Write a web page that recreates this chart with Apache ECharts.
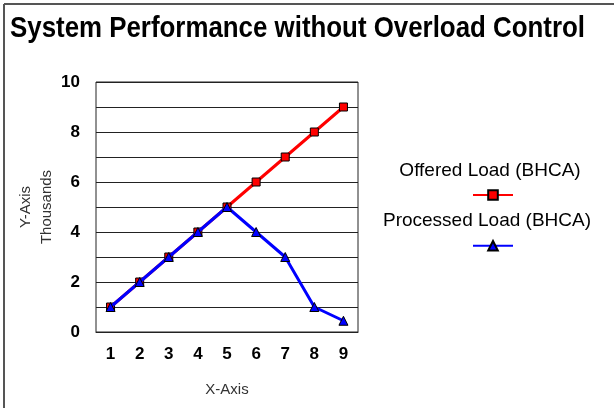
<!DOCTYPE html>
<html><head><meta charset="utf-8">
<script src="https://cdn.jsdelivr.net/npm/echarts@6/dist/echarts.min.js"></script>
<style>html,body{margin:0;padding:0;background:#fff}#c{width:614px;height:408px}</style>
</head><body><div id="c"></div>
<script>
const categories = ['1','2','3','4','5','6','7','8','9'];
const offeredLoad = [1,2,3,4,5,6,7,8,9];
const processedLoad = [1,2,3,4,5,4,3,1,0.45];
const seriesNames = ['Offered Load (BHCA)','Processed Load (BHCA)'];
const titleText = 'System Performance without Overload Control';
const regular = "'Liberation Sans',Arial,sans-serif";
const titleFont = "bold 30px 'Liberation Sans',Arial,sans-serif";
const ctx = document.createElement('canvas').getContext('2d');
ctx.font = titleFont;
const titleScale = 575 / ctx.measureText(titleText).width;
const chart = echarts.init(document.getElementById('c'));
chart.setOption({
  animation:false,
  backgroundColor:'#fff',
  grid:{left:96,right:256,top:82,bottom:76,show:true,borderColor:'#222',borderWidth:1,backgroundColor:'transparent'},
  xAxis:{type:'category',data:categories,boundaryGap:true,
    name:'X-Axis',nameLocation:'middle',nameGap:50,
    nameTextStyle:{fontFamily:regular,fontSize:15,color:'#333'},
    axisLine:{lineStyle:{color:'#222'}},axisTick:{show:false},
    axisLabel:{margin:14,fontFamily:regular,fontWeight:'bold',fontSize:17,color:'#000'}},
  yAxis:{type:'value',min:0,max:10,interval:2,
    name:'Y-Axis\nThousands',nameLocation:'middle',nameRotate:90,nameGap:38,
    nameTextStyle:{fontFamily:regular,fontSize:15,color:'#333',lineHeight:21},
    axisLine:{show:false},axisTick:{show:false},
    axisLabel:{margin:16,fontFamily:regular,fontWeight:'bold',fontSize:17,color:'#000'},
    splitLine:{lineStyle:{color:'#222',width:1}},
    minorTick:{show:false,splitNumber:2},
    minorSplitLine:{show:true,lineStyle:{color:'#222',width:1}}},
  legend:{orient:'vertical',left:472,top:189,padding:0,itemWidth:40,itemHeight:12,itemGap:39,
    formatter:()=>'',textStyle:{fontSize:1},data:seriesNames},
  graphic:[
    {type:'line',shape:{x1:4,y1:4,x2:614,y2:4},style:{stroke:'#555',lineWidth:2}},
    {type:'line',shape:{x1:4,y1:4,x2:4,y2:408},style:{stroke:'#555',lineWidth:2}},
    {type:'text',x:10,y:14,scaleX:titleScale,style:{text:titleText,align:'left',verticalAlign:'top',font:titleFont,fill:'#000'}},
    {type:'text',x:490,y:171,style:{text:seriesNames[0],align:'center',verticalAlign:'middle',font:"19px 'Liberation Sans',Arial,sans-serif",fill:'#000'}},
    {type:'text',x:487,y:221,style:{text:seriesNames[1],align:'center',verticalAlign:'middle',font:"19px 'Liberation Sans',Arial,sans-serif",fill:'#000'}}
  ],
  series:[
    {name:seriesNames[0],type:'line',data:offeredLoad,symbol:'rect',symbolSize:8,z:2,
      lineStyle:{color:'#ff0000',width:3},itemStyle:{color:'#ff0000',borderColor:'#000',borderWidth:1}},
    {name:seriesNames[1],type:'line',data:processedLoad,symbol:'triangle',symbolSize:9,z:3,
      lineStyle:{color:'#0000ff',width:3},itemStyle:{color:'#0000ff',borderColor:'#000',borderWidth:1}}
  ]
});
</script></body></html>
